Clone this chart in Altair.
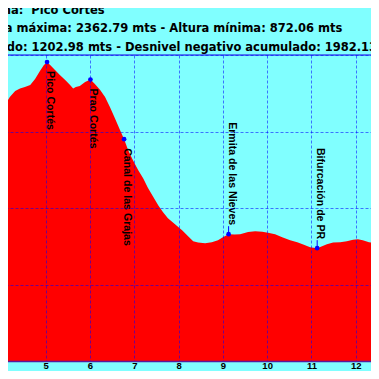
import altair as alt
import pandas as pd

# Elevation profile (km, metres)
km = [3.97, 4.08, 4.19, 4.31, 4.42, 4.53, 4.65, 4.76, 4.87, 4.96,
      5.03, 5.10, 5.21, 5.32, 5.44, 5.55, 5.62, 5.68, 5.77, 5.89,
      6.01, 6.11, 6.23, 6.34, 6.45, 6.57, 6.68, 6.77, 6.86, 6.97,
      7.09, 7.20, 7.31, 7.42, 7.54, 7.65, 7.76, 7.92, 8.08, 8.21,
      8.33, 8.44, 8.60, 8.75, 8.89, 9.00, 9.13, 9.27, 9.39, 9.57,
      9.73, 9.89, 10.02, 10.18, 10.34, 10.52, 10.68, 10.83, 10.97, 11.13,
      11.24, 11.35, 11.49, 11.65, 11.80, 11.94, 12.05, 12.16, 12.30, 12.44,
      12.55, 12.67]
elev = [2049, 2138, 2180, 2212, 2225, 2233, 2243, 2274, 2316, 2348,
        2362, 2348, 2321, 2295, 2269, 2243, 2225, 2233, 2238, 2259,
        2272, 2248, 2217, 2180, 2128, 2065, 2007, 1960, 1903, 1850,
        1798, 1756, 1704, 1662, 1615, 1578, 1547, 1515, 1484, 1453,
        1426, 1419, 1416, 1421, 1432, 1447, 1463, 1461, 1463, 1474,
        1479, 1476, 1471, 1463, 1447, 1432, 1421, 1408, 1395, 1390,
        1400, 1411, 1419, 1421, 1426, 1434, 1437, 1432, 1421, 1416,
        1416, 1411]

# Waypoints
wp_names = ["Pico Cortés", "Prao Cortés", "Canal de las Grajas",
            "Ermita de las Nieves", "Bifurcación de PR"]
wp_km = [5.03, 6.01, 6.77, 9.13, 11.13]
wp_elev = [2362.79, 2272, 1960, 1463, 1390]

header_lines = ["ma:\u00a0 Pico Cortés",
                "ra máxima: 2362.79 mts - Altura mínima: 872.06 mts",
                "ado: 1202.98 mts - Desnivel negativo acumulado: 1982.13 mts"]

x_ticks = [4, 5, 6, 7, 8, 9, 10, 11, 12]
y_ticks = [800, 1000, 1200, 1400, 1600, 1800, 2000, 2200, 2400]

profile = pd.DataFrame({"km": km, "elev": elev})
wps = pd.DataFrame({"name": wp_names, "km": wp_km, "elev": wp_elev})

W, H = 379, 306
xs = alt.Scale(domain=[3.968, 12.526], nice=False, zero=False)
ys = alt.Scale(domain=[800, 2400], nice=False, zero=False)

grid_kw = dict(grid=True, gridColor="#0000ff", gridOpacity=0.55,
               gridDash=[3, 2], gridWidth=1, ticks=False, title=None, zindex=1)
x_axis = alt.Axis(values=x_ticks, domain=True, domainColor="#5a1a9a",
                  domainWidth=1.5, labelFont="Liberation Sans",
                  labelFontWeight="bold", labelFontSize=9.5, labelColor="black",
                  labelPadding=-1, labelOverlap=False, labelFlush=False, **grid_kw)
y_axis = alt.Axis(values=y_ticks, domain=False, labels=False, **grid_kw)

X = alt.X("km:Q", scale=xs, axis=x_axis)
Y = alt.Y("elev:Q", scale=ys, axis=y_axis)

area = alt.Chart(profile).mark_area(color="#ff0000", clip=True, opacity=1).encode(
    x=X, y=Y, y2=alt.datum(800))

top = alt.Chart(pd.DataFrame({"a": [0]})).mark_rule(
    color="#4a7cf0", strokeWidth=2).encode(
    x=alt.value(0), x2=alt.value(W), y=alt.value(0))

above_expr = "datum.name == 'Ermita de las Nieves' || datum.name == 'Bifurcación de PR'"

leaders = alt.Chart(wps).transform_filter(above_expr).mark_rule(
    color="#0000ff", strokeWidth=1, y2Offset=-8).encode(
    x=alt.X("km:Q", scale=xs), y=alt.Y("elev:Q", scale=ys), y2=alt.Y2("elev:Q"))

pts = alt.Chart(wps).mark_circle(color="#0000ff", size=22, opacity=1).encode(
    x=alt.X("km:Q", scale=xs), y=alt.Y("elev:Q", scale=ys))

lab_style = dict(angle=90, baseline="alphabetic", font="Liberation Sans",
                 fontWeight="bold", fontSize=10.6, color="black")
lab_below = alt.Chart(wps).transform_filter("!(" + above_expr + ")").mark_text(
    align="left", dx=9, **lab_style).encode(
    x=alt.X("km:Q", scale=xs), y=alt.Y("elev:Q", scale=ys), text="name:N")
lab_above = alt.Chart(wps).transform_filter(above_expr).mark_text(
    align="right", dx=-9, **lab_style).encode(
    x=alt.X("km:Q", scale=xs), y=alt.Y("elev:Q", scale=ys), text="name:N")

header_y = [-41.5, -23, -4.5]
headers = [
    alt.Chart(pd.DataFrame({"t": [line]})).mark_text(
        align="left", baseline="alphabetic", font="DejaVu Sans",
        fontWeight="bold", fontSize=11.5, color="black").encode(
        x=alt.value(-1), y=alt.value(yy), text="t:N")
    for line, yy in zip(header_lines, header_y)
]

chart = alt.layer(area, top, leaders, pts, lab_below, lab_above, *headers).properties(
    width=W, height=H,
    autosize=alt.AutoSizeParams(type="none"),
    padding={"left": -8, "top": 47, "right": -8, "bottom": 10},
    background="#80ffff",
).configure_view(stroke=None)

chart.save("out.html", embed_options={"renderer": "svg", "actions": False})
